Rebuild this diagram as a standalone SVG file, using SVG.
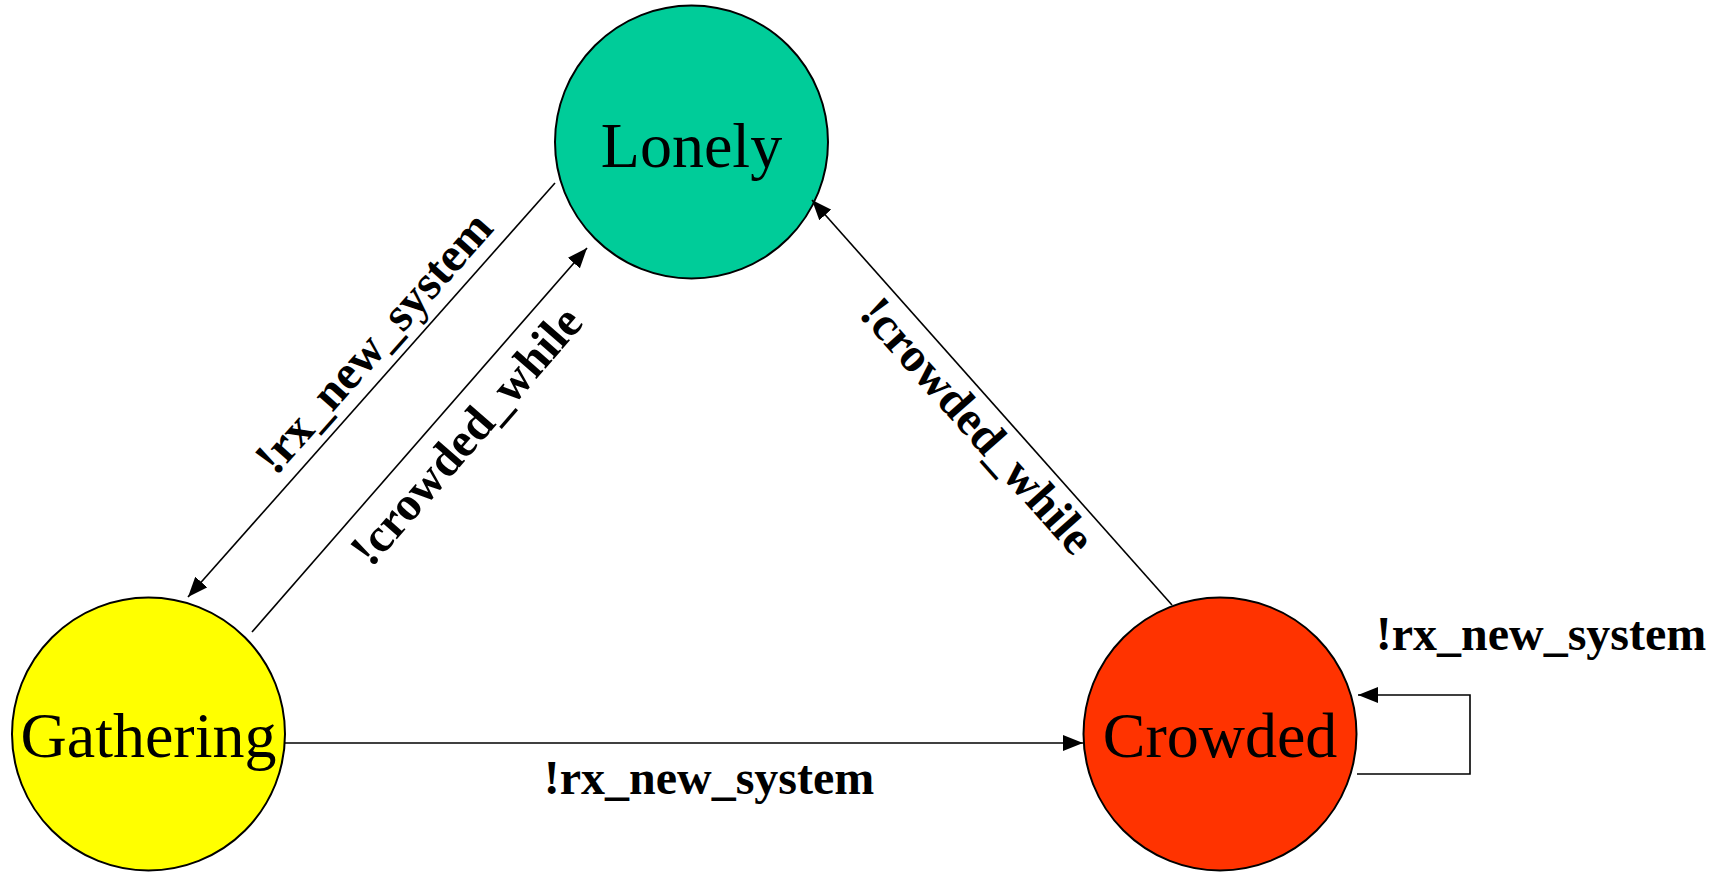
<svg xmlns="http://www.w3.org/2000/svg" width="1720" height="872" viewBox="0 0 1720 872">
  <style>
    .state { stroke: #000; stroke-width: 2; }
    .state-label { font-family: "Liberation Serif", "Times New Roman", serif; font-size: 64px; fill: #000; text-anchor: middle; }
    .edge { fill: none; stroke: #000; stroke-width: 1.6; }
    .edge-label { font-family: "Liberation Serif", "Times New Roman", serif; font-size: 48px; font-weight: bold; fill: #000; text-anchor: middle; }
  </style>
  <defs>
    <marker id="arrow" viewBox="0 0 20 16" refX="20" refY="8" markerWidth="20" markerHeight="16" markerUnits="userSpaceOnUse" orient="auto">
      <path d="M0,0 L20,8 L0,16 Z" fill="#000"/>
    </marker>
  </defs>
  <rect width="1720" height="872" fill="#fff"/>

  <!-- states -->
  <g id="lonely">
    <circle class="state" cx="691.5" cy="142" r="136.5" fill="#00CC99"/>
    <text class="state-label" x="691.5" y="167">Lonely</text>
  </g>
  <g id="gathering">
    <circle class="state" cx="148.5" cy="734" r="136.5" fill="#FFFF00"/>
    <text class="state-label" x="148.5" y="757">Gathering</text>
  </g>
  <g id="crowded">
    <circle class="state" cx="1220" cy="734" r="136.5" fill="#FF3300"/>
    <text class="state-label" x="1220" y="757">Crowded</text>
  </g>

  <!-- transitions -->
  <g id="connectors">
    <line class="edge" x1="555" y1="183" x2="188" y2="597" marker-end="url(#arrow)"/>
    <line class="edge" x1="252" y1="632" x2="587" y2="248" marker-end="url(#arrow)"/>
    <line class="edge" x1="1172" y1="605" x2="812" y2="200" marker-end="url(#arrow)"/>
    <line class="edge" x1="285" y1="743" x2="1083" y2="743" marker-end="url(#arrow)"/>
    <polyline class="edge" points="1357,774 1470,774 1470,695 1358,695" marker-end="url(#arrow)"/>

    <text class="edge-label" transform="translate(385.4,353.1) rotate(-48.45)">!rx_new_system</text>
    <text class="edge-label" transform="translate(478,446) rotate(-48.9)">!crowded_while</text>
    <text class="edge-label" transform="translate(965.6,436.1) rotate(48.37)">!crowded_while</text>
    <text class="edge-label" x="709" y="794">!rx_new_system</text>
    <text class="edge-label" x="1541" y="650">!rx_new_system</text>
  </g>
</svg>
